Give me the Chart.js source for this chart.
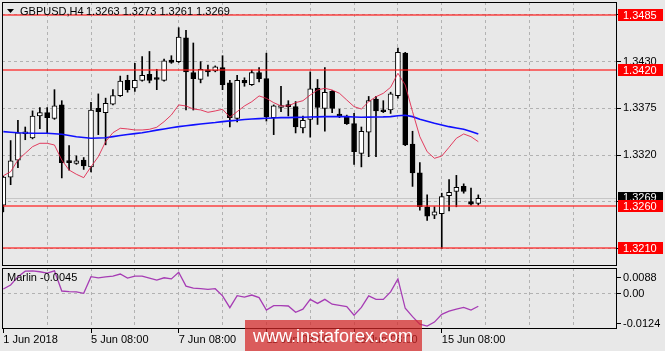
<!DOCTYPE html>
<html><head><meta charset="utf-8">
<script src="https://cdn.jsdelivr.net/npm/chart.js@4.4.1/dist/chart.umd.min.js"></script>
<style>
html,body{margin:0;padding:0;background:#e8e8e8;}
#wrap{position:relative;width:665px;height:351px;overflow:hidden;background:#e8e8e8;}
canvas{position:absolute;left:0;top:0;}
</style></head><body>
<div id="wrap"><canvas id="main" width="665" height="351"></canvas><canvas id="sub" width="665" height="351"></canvas></div>
<script>
// ---- data (GBPUSD H4) ----
const symbol = 'GBPUSD,H4';
const opens  = [1.3261,1.3294,1.3314,1.3345,1.3340,1.3366,1.3370,1.3363,1.3379,1.3313,
                1.3310,1.3314,1.3306,1.3375,1.3370,1.3380,1.3390,1.3408,1.3399,1.3408,
                1.3415,1.3410,1.3408,1.3432,1.3430,1.3458,1.3417,1.3409,1.3419,1.3419,
                1.3423,1.3405,1.3363,1.3408,1.3403,1.3417,1.3410,1.3364,1.3376,1.3378,
                1.3377,1.3352,1.3362,1.3399,1.3375,1.3395,1.3368,1.3366,1.3357,1.3322,
                1.3347,1.3386,1.3373,1.3373,1.3390,1.3440,1.3333,1.3299,1.3259,1.3249,
                1.3251,1.3272,1.3277,1.3283,1.3265,1.3263];
const highs  = [1.3295,1.3337,1.3361,1.3353,1.3372,1.3376,1.3376,1.3397,1.3384,1.3331,
                1.3319,1.3317,1.3382,1.3392,1.3387,1.3397,1.3413,1.3414,1.3428,1.3436,
                1.3442,1.3421,1.3433,1.3437,1.3470,1.3467,1.3452,1.3430,1.3426,1.3425,
                1.3437,1.3408,1.3414,1.3411,1.3420,1.3423,1.3440,1.3379,1.3401,1.3384,
                1.3383,1.3366,1.3418,1.3409,1.3423,1.3396,1.3374,1.3367,1.3369,1.3353,
                1.3389,1.3389,1.3384,1.3394,1.3446,1.3441,1.3348,1.3311,1.3273,1.3259,
                1.3275,1.3291,1.3296,1.3286,1.3281,1.3273];
const lows   = [1.3253,1.3285,1.3305,1.3338,1.3339,1.3351,1.3346,1.3362,1.3293,1.3302,
                1.3309,1.3303,1.3300,1.3344,1.3332,1.3379,1.3389,1.3394,1.3395,1.3407,
                1.3405,1.3397,1.3407,1.3428,1.3429,1.3373,1.3373,1.3405,1.3413,1.3418,
                1.3397,1.3353,1.3359,1.3401,1.3402,1.3406,1.3360,1.3344,1.3371,1.3366,
                1.3346,1.3346,1.3341,1.3356,1.3348,1.3370,1.3364,1.3356,1.3309,1.3306,
                1.3318,1.3318,1.3370,1.3369,1.3387,1.3331,1.3283,1.3255,1.3243,1.3245,
                1.3210,1.3254,1.3259,1.3275,1.3261,1.3261];
const closes = [1.3294,1.3313,1.3346,1.3347,1.3366,1.3370,1.3364,1.3378,1.3311,1.3311,
                1.3313,1.3307,1.3373,1.3371,1.3381,1.3390,1.3407,1.3397,1.3408,1.3414,
                1.3408,1.3409,1.3431,1.3429,1.3459,1.3418,1.3410,1.3421,1.3418,1.3424,
                1.3403,1.3364,1.3408,1.3405,1.3417,1.3410,1.3365,1.3378,1.3378,1.3377,
                1.3353,1.3361,1.3398,1.3376,1.3394,1.3375,1.3366,1.3357,1.3324,1.3348,
                1.3384,1.3372,1.3371,1.3392,1.3441,1.3332,1.3299,1.3259,1.3248,1.3253,
                1.3271,1.3276,1.3282,1.3277,1.3262,1.3269];
const maFast = [1.32956,1.33003,1.33141,1.33220,1.33298,1.33338,1.33338,1.33318,1.33141,1.33023,
                1.32973,1.32933,1.33062,1.33180,1.33357,1.33463,1.33515,1.33507,1.33495,1.33495,
                1.33503,1.33527,1.33593,1.33672,1.33790,1.33778,1.33742,1.33731,1.33703,1.33719,
                1.33739,1.33645,1.33711,1.33778,1.33828,1.33896,1.33868,1.33817,1.33778,1.33778,
                1.33817,1.33840,1.33907,1.33966,1.33986,1.33966,1.33927,1.33848,1.33770,1.33742,
                1.33828,1.33887,1.33927,1.33998,1.34163,1.34025,1.33711,1.33416,1.33239,1.33161,
                1.33188,1.33291,1.33397,1.33448,1.33416,1.33357];
const maSlow = [1.33475,1.33469,1.33463,1.33460,1.33456,1.33456,1.33456,1.33450,1.33444,1.33430,
                1.33416,1.33406,1.33397,1.33401,1.33404,1.33417,1.33430,1.33441,1.33452,1.33463,
                1.33477,1.33493,1.33507,1.33521,1.33534,1.33544,1.33555,1.33566,1.33575,1.33583,
                1.33593,1.33602,1.33610,1.33619,1.33625,1.33629,1.33633,1.33636,1.33640,1.33641,
                1.33643,1.33645,1.33647,1.33649,1.33652,1.33652,1.33652,1.33652,1.33648,1.33645,
                1.33646,1.33648,1.33649,1.33652,1.33663,1.33668,1.33652,1.33621,1.33597,1.33574,
                1.33554,1.33534,1.33518,1.33503,1.33477,1.33448];
const marlin = [0.0015,0.0029,0.0058,0.0077,0.0078,0.0075,0.0070,0.0078,0.0008,0.0006,
                0.0005,0.0000,0.0058,0.0054,0.0057,0.0060,0.0067,0.0053,0.0060,0.0060,
                0.0053,0.0046,0.0054,0.0050,0.0073,0.0025,0.0018,0.0016,0.0014,0.0016,
                -0.0009,-0.0050,-0.0008,-0.0013,-0.0006,-0.0015,-0.0058,-0.0043,-0.0043,-0.0044,
                -0.0066,-0.0055,-0.0021,-0.0035,-0.0021,-0.0038,-0.0042,-0.0046,-0.0076,-0.0049,
                -0.0009,-0.0021,-0.0021,0.0005,0.0050,-0.0052,-0.0081,-0.0107,-0.0114,-0.0100,
                -0.0073,-0.0062,-0.0055,-0.0049,-0.0058,-0.0045];
const levels = [1.3485, 1.3420, 1.3260, 1.3210];
const priceTicks = [1.3210, 1.3265, 1.3320, 1.3375, 1.3430, 1.3485];
const timeTickIdx = [0, 12, 24, 36, 48, 60];
const timeTickLabels = ['1 Jun 2018', '5 Jun 08:00', '7 Jun 08:00', '11 Jun 08:00', '13 Jun 08:00', '15 Jun 08:00'];
const marlinMax = 0.0088, marlinMin = -0.0124;

// ---- layout / style ----
const N = opens.length;
const idx = opens.map((_, i) => i);
const FONT = "'Liberation Sans', 'DejaVu Sans', Arial, sans-serif";
const GRID = '#b2b2b2';
const X_MIN = -0.18, X_MAX = 83.98;
const Y_MIN = 1.31892, Y_MAX = 1.35003;
const gridIdx = []; for (let v = 6; v < X_MAX; v += 6) gridIdx.push(v);
const bid = closes[N - 1];

function frame(c) {
  const a = c.chartArea, ctx = c.ctx;
  ctx.save(); ctx.strokeStyle = '#000'; ctx.lineWidth = 1;
  ctx.strokeRect(Math.round(a.left) + 0.5, Math.round(a.top) + 0.5,
                 Math.round(a.right - a.left) - 1, Math.round(a.bottom - a.top) - 1);
  ctx.restore();
}
function box(ctx, x, yc, w, h, bg, txt) {
  ctx.fillStyle = bg; ctx.fillRect(x, Math.round(yc - h / 2), w, h);
  ctx.fillStyle = '#fff'; ctx.font = '11px ' + FONT; ctx.textBaseline = 'middle'; ctx.textAlign = 'left';
  ctx.fillText(txt, x + 5, Math.round(yc - h / 2) + h / 2 + 0.5);
}

const mainDeco = {
  id: 'mainDeco',
  beforeDatasetsDraw(c) {
    const {ctx, chartArea: a, scales: {y}} = c;
    const yb = Math.round(y.getPixelForValue(bid)) + 0.5;
    ctx.save(); ctx.strokeStyle = '#c6c6c6'; ctx.lineWidth = 1;
    ctx.beginPath(); ctx.moveTo(a.left, yb); ctx.lineTo(a.right, yb); ctx.stroke(); ctx.restore();
  },
  afterDatasetsDraw(c) {
    const {ctx, chartArea: a, scales: {y}} = c;
    ctx.save(); ctx.strokeStyle = 'rgba(255,25,25,0.6)'; ctx.lineWidth = 2;
    levels.forEach(v => {
      const yy = Math.round(y.getPixelForValue(v));
      ctx.beginPath(); ctx.moveTo(a.left, yy); ctx.lineTo(a.right, yy); ctx.stroke();
    });
    ctx.restore();
  },
  afterDraw(c) {
    const {ctx, chartArea: a, scales: {y}} = c;
    frame(c);
    ctx.save();
    ctx.fillStyle = '#000';
    ctx.beginPath(); ctx.moveTo(7, 9); ctx.lineTo(14, 9); ctx.lineTo(10.5, 13); ctx.closePath(); ctx.fill();
    ctx.font = '11px ' + FONT; ctx.textBaseline = 'middle'; ctx.textAlign = 'left';
    ctx.fillText(symbol, 20, 12);
    const last = N - 1;
    ctx.fillText([opens[last], highs[last], lows[last], closes[last]].map(v => v.toFixed(4)).join(' '), 86, 12);
    const bx = Math.round(a.right) + 1, bw = 45, bh = 12;
    box(ctx, bx, y.getPixelForValue(bid) - 1, bw, 11, '#000', bid.toFixed(4));
    levels.forEach(v => box(ctx, bx, y.getPixelForValue(v), bw, bh, '#ff0000', v.toFixed(4)));
    ctx.restore();
  }
};

const subDeco = {
  id: 'subDeco',
  afterDraw(c) {
    const {ctx, chartArea: a, scales: {y}} = c;
    frame(c);
    ctx.save();
    ctx.fillStyle = '#000'; ctx.font = '11px ' + FONT; ctx.textBaseline = 'middle'; ctx.textAlign = 'left';
    ctx.fillText('Marlin ' + marlin[N - 1].toFixed(4), 7, 278);
    const rx = Math.round(a.right);
    const lab = [[marlinMax, y.getPixelForValue(marlinMax) + 9, marlinMax.toFixed(4)],
                 [0, y.getPixelForValue(0), '0.00'],
                 [marlinMin, y.getPixelForValue(marlinMin) - 6, marlinMin.toFixed(4)]];
    lab.forEach(([v, py, t]) => {
      const yy = Math.round(py) + 0.5;
      ctx.strokeStyle = '#000'; ctx.lineWidth = 1;
      ctx.beginPath(); ctx.moveTo(rx, yy); ctx.lineTo(rx + 4, yy); ctx.stroke();
      ctx.fillText(t, rx + 6, yy);
    });
    ctx.fillStyle = 'rgba(212,38,38,0.72)';
    ctx.fillRect(245, 320, 177, 40);
    ctx.fillStyle = '#fff'; ctx.font = '18px ' + FONT; ctx.textAlign = 'center';
    ctx.fillText('www.instaforex.com', 333, 337);
    ctx.restore();
  }
};

const hideNear = v => levels.concat([bid]).some(l => Math.abs(l - v) < 0.0008);

new Chart(document.getElementById('main'), {
  data: {
    datasets: [
      { type: 'line', data: idx.map(i => ({x: i, y: maSlow[i]})), borderColor: '#1010ff', borderWidth: 1.6, pointRadius: 0, order: 1 },
      { type: 'line', data: idx.map(i => ({x: i, y: maFast[i]})), borderColor: 'rgba(225,30,70,0.85)', borderWidth: 1, pointRadius: 0, order: 0 },
      { type: 'bar', data: idx.map(i => ({x: i, y: [opens[i], closes[i]]})),
        backgroundColor: idx.map(i => closes[i] >= opens[i] ? '#ffffff' : '#000000'),
        borderColor: '#000', borderWidth: 1, borderSkipped: false, barThickness: 5, minBarLength: 2, grouped: false, order: 2 },
      { type: 'bar', data: idx.map(i => ({x: i, y: [lows[i], highs[i]]})),
        backgroundColor: '#000', barThickness: 1, grouped: false, order: 3 }
    ]
  },
  options: {
    responsive: false, animation: false, events: [],
    layout: { padding: { left: 2, top: 2, right: 0, bottom: 0 } },
    plugins: { legend: { display: false }, tooltip: { enabled: false } },
    scales: {
      x: { type: 'linear', min: X_MIN, max: X_MAX, offset: false,
           afterBuildTicks: s => { s.ticks = gridIdx.map(v => ({value: v})); },
           afterFit: s => { s.height = 85; s.paddingLeft = 0; s.paddingRight = 0; },
           ticks: { display: false },
           grid: { offset: false, color: GRID, drawTicks: false, borderDash: [3, 3] },
           border: { display: false, dash: [3, 3] } },
      y: { type: 'linear', position: 'right', min: Y_MIN, max: Y_MAX,
           afterBuildTicks: s => { s.ticks = priceTicks.map(v => ({value: v})); },
           afterFit: s => { s.width = 48; s.paddingTop = 0; s.paddingBottom = 0; },
           ticks: { color: '#000', font: { family: FONT, size: 11 }, padding: 2,
                    callback: v => hideNear(v) ? '' : v.toFixed(4) },
           grid: { color: GRID, tickColor: '#000', tickLength: 4, borderDash: [3, 3], tickBorderDash: [] },
           border: { display: false, dash: [3, 3] } }
    }
  },
  plugins: [mainDeco]
});

const subTicks = []; for (let v = 0; v < X_MAX; v += 6) subTicks.push(v);
new Chart(document.getElementById('sub'), {
  data: {
    datasets: [
      { type: 'line', data: idx.map(i => ({x: i, y: marlin[i]})), borderColor: '#a63cb4', borderWidth: 1.3, pointRadius: 0 }
    ]
  },
  options: {
    responsive: false, animation: false, events: [],
    layout: { padding: { left: 2, top: 268, right: 0, bottom: 0 } },
    plugins: { legend: { display: false }, tooltip: { enabled: false } },
    scales: {
      x: { type: 'linear', min: X_MIN, max: X_MAX, offset: false,
           afterBuildTicks: s => { s.ticks = subTicks.map(v => ({value: v})); },
           afterFit: s => { s.height = 22; s.paddingLeft = 0; s.paddingRight = 0; },
           ticks: { align: 'start', autoSkip: false, maxRotation: 0, padding: 0, color: '#000',
                    font: { family: FONT, size: 11 },
                    callback: v => { const k = timeTickIdx.indexOf(v); return k >= 0 ? timeTickLabels[k] : ''; } },
           grid: { offset: false, color: ctx => (ctx.tick && ctx.tick.value === 0) ? 'rgba(0,0,0,0)' : GRID,
                   tickColor: ctx => (ctx.tick && timeTickIdx.indexOf(ctx.tick.value) >= 0) ? '#000' : 'rgba(0,0,0,0)',
                   tickLength: 4, borderDash: [3, 3], tickBorderDash: [] },
           border: { display: false, dash: [3, 3] } },
      y: { type: 'linear', position: 'right', min: marlinMin, max: marlinMax,
           afterBuildTicks: s => { s.ticks = [{value: 0}]; },
           afterFit: s => { s.width = 48; s.paddingTop = 0; s.paddingBottom = 0; },
           ticks: { display: false },
           grid: { color: GRID, drawTicks: false, borderDash: [3, 3] },
           border: { display: false, dash: [3, 3] } }
    }
  },
  plugins: [subDeco]
});
</script>
</body></html>
